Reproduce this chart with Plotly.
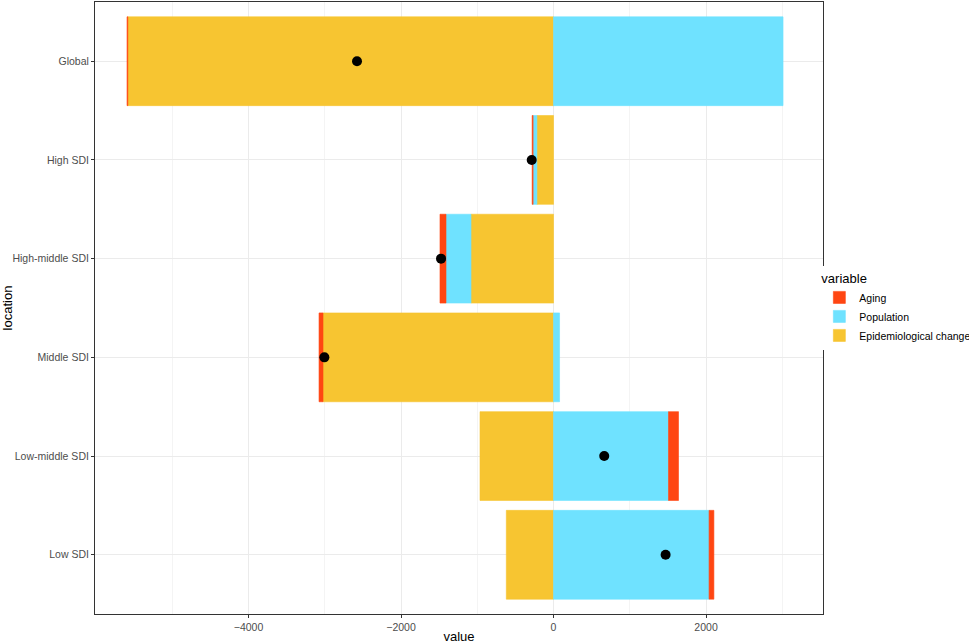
import plotly.graph_objects as go

locations = ["Global", "High SDI", "High-middle SDI", "Middle SDI", "Low-middle SDI", "Low SDI"]
aging = [-10, -12, -79, -52, 131, 63]
population = [3010, -50, -328, 79, 1508, 2040]
epidemiological = [-5583, -218, -1082, -3023, -964, -619]
net_total = [-2577, -286, -1475, -3005, 665, 1470]

colors = {"Aging": "#FF4612", "Population": "#6FE2FF", "Epidemiological change": "#F7C531"}

fig = go.Figure()
# plotly stacks in trace order from zero outwards, ggplot puts first level outermost
for name, vals, rank in [("Epidemiological change", epidemiological, 3),
                         ("Population", population, 2),
                         ("Aging", aging, 1)]:
    fig.add_trace(go.Bar(y=locations, x=vals, orientation="h", name=name,
                         marker=dict(color=colors[name], line=dict(width=0.6, color=colors[name])),
                         legendrank=rank))

fig.add_trace(go.Scatter(y=locations, x=net_total, mode="markers",
                         marker=dict(color="black", size=10), showlegend=False))

tick_font = dict(family="Liberation Sans, Arial, sans-serif", size=10.5, color="#4D4D4D")
title_font = dict(family="Liberation Sans, Arial, sans-serif", size=13, color="black")

fig.update_layout(
    barmode="relative", bargap=0.1,
    width=969, height=644,
    margin=dict(l=95, r=146, t=2, b=30, autoexpand=False),
    plot_bgcolor="white", paper_bgcolor="white",
    legend=dict(x=0.995, y=0.5, xanchor="left", yanchor="middle",
                title=dict(text="variable", font=title_font),
                font=dict(family="Liberation Sans, Arial, sans-serif", size=10.5, color="black"),
                tracegroupgap=0, itemwidth=30),
)
fig.update_xaxes(range=[-6013, 3534], tickvals=[-4000, -2000, 0, 2000],
                 ticktext=["\u22124000", "\u22122000", "0", "2000"],
                 showgrid=True, gridcolor="#EBEBEB", gridwidth=1,
                 minor=dict(tickvals=[-5000, -3000, -1000, 1000, 3000], showgrid=True,
                            gridcolor="#F4F4F4", gridwidth=0.6, ticks=""),
                 zeroline=False, ticks="outside", ticklen=3, tickcolor="#333333",
                 showline=True, linecolor="#333333", linewidth=1, mirror=True,
                 tickfont=tick_font, automargin=False,
                 title=dict(text="value", font=title_font, standoff=0))
fig.update_yaxes(type="category", categoryorder="array", categoryarray=locations,
                 range=[5.6, -0.6],
                 showgrid=True, gridcolor="#EBEBEB", gridwidth=1,
                 zeroline=False, ticks="outside", ticklen=3, tickcolor="#333333",
                 showline=True, linecolor="#333333", linewidth=1, mirror=True,
                 tickfont=tick_font, automargin=False,
                 title=dict(text="location", font=title_font, standoff=0))

# page body has an 8px default margin, drop it so the figure fills the window
fig.write_html("out.html", config={"displayModeBar": False},
               post_script="document.body.style.margin='0';")
